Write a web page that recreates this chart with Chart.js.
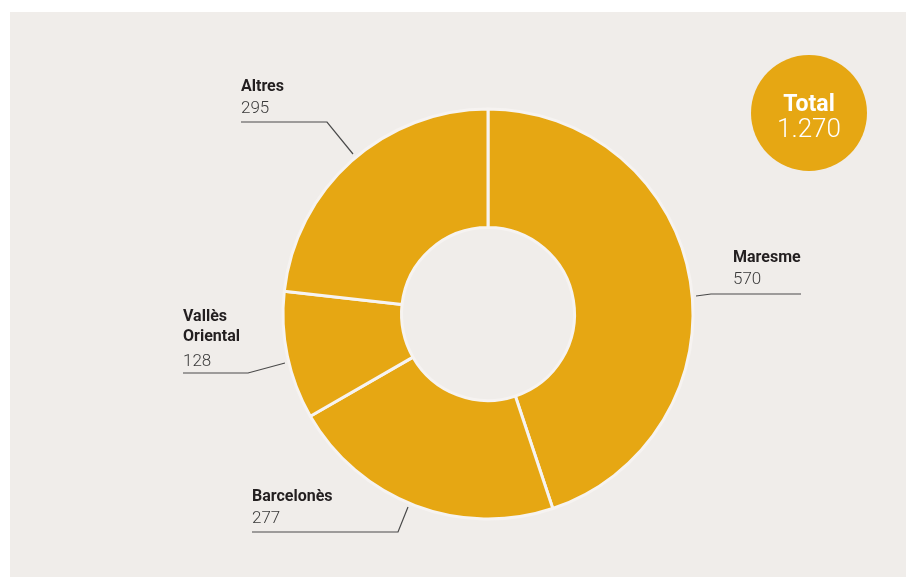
<!DOCTYPE html>
<html>
<head>
<meta charset="utf-8">
<script src="https://cdn.jsdelivr.net/npm/chart.js@4.4.1/dist/chart.umd.min.js"></script>
<style>
  html, body { margin: 0; padding: 0; background: #ffffff; }
  #wrap { position: relative; width: 906px; height: 577px; }
</style>
</head>
<body>
<div id="wrap"><canvas id="c" width="906" height="577"></canvas></div>
<script>
// ---- data ----
const categories = ['Maresme', 'Barcelonès', 'Vallès Oriental', 'Altres'];
const labelLines = [['Maresme'], ['Barcelonès'], ['Vallès', 'Oriental'], ['Altres']];
const values = [570, 277, 128, 295];
const totalTitle = 'Total';

// ---- styling / layout (offsets from the doughnut centre) ----
const COLOR_SLICE = '#e6a713';
const COLOR_PANEL = '#f0edea';
const COLOR_SEAM = '#f6f3f1';
const COLOR_TEXT = '#231f20';
const COLOR_NUM = '#3a3a3a';
const COLOR_LINE = '#4a4a4a';

const labelLayout = [
  // Maresme
  { tx: 245, ty: -52, numDy: 22, lineY: -20, lineX0: 313, elbow: [223, -20], end: [208, -18] },
  // Barcelonès
  { tx: -236, ty: 187, numDy: 22, lineY: 218, lineX0: -236, elbow: [-90, 218], end: [-80, 193] },
  // Vallès Oriental
  { tx: -305, ty: 7, numDy: 25, lineY: 59, lineX0: -305, elbow: [-240, 59], end: [-203, 49] },
  // Altres
  { tx: -247, ty: -223, numDy: 22, lineY: -192, lineX0: -247, elbow: [-161, -192], end: [-135, -160] }
];

const fmt = n => n.toString().replace(/\B(?=(\d{3})+(?!\d))/g, '.');

const panelPlugin = {
  id: 'panel',
  beforeDraw(chart) {
    const ctx = chart.ctx;
    ctx.save();
    ctx.fillStyle = COLOR_PANEL;
    ctx.fillRect(10, 12, 896, 565);
    ctx.restore();
  }
};

const labelPlugin = {
  id: 'labels',
  afterDatasetsDraw(chart) {
    const ctx = chart.ctx;
    const meta = chart.getDatasetMeta(0);
    const arc0 = meta.data[0];
    const cx = arc0.x, cy = arc0.y;
    ctx.save();
    ctx.textBaseline = 'alphabetic';
    ctx.textAlign = 'left';
    meta.data.forEach((arc, i) => {
      const L = labelLayout[i];
      const lines = labelLines[i];
      ctx.fillStyle = COLOR_TEXT;
      ctx.font = 'bold 16px Roboto, "Liberation Sans", sans-serif';
      lines.forEach((t, k) => {
        ctx.fillText(t, cx + L.tx, cy + L.ty + k * 20);
      });
      ctx.fillStyle = COLOR_NUM;
      ctx.font = '300 17px Roboto, "Liberation Sans", sans-serif';
      ctx.fillText(fmt(values[i]), cx + L.tx, cy + L.ty + (lines.length - 1) * 20 + L.numDy);
      // leader line
      ctx.strokeStyle = COLOR_LINE;
      ctx.lineWidth = 1.2;
      ctx.beginPath();
      ctx.moveTo(cx + L.lineX0, cy + L.lineY);
      ctx.lineTo(cx + L.elbow[0], cy + L.elbow[1]);
      ctx.lineTo(cx + L.end[0], cy + L.end[1]);
      ctx.stroke();
    });
    // total bubble
    const total = values.reduce((a, b) => a + b, 0);
    const bx = cx + 321, by = cy - 201;
    ctx.fillStyle = COLOR_SLICE;
    ctx.beginPath();
    ctx.arc(bx, by, 58, 0, Math.PI * 2);
    ctx.fill();
    ctx.fillStyle = '#ffffff';
    ctx.textAlign = 'center';
    ctx.font = 'bold 23px Roboto, "Liberation Sans", sans-serif';
    ctx.fillText(totalTitle, bx, by - 2);
    ctx.font = '300 26px Roboto, "Liberation Sans", sans-serif';
    ctx.fillText(fmt(total), bx, by + 24);
    ctx.restore();
  }
};

new Chart(document.getElementById('c'), {
  type: 'doughnut',
  data: {
    labels: categories,
    datasets: [{
      data: values,
      backgroundColor: COLOR_SLICE,
      borderColor: COLOR_SEAM,
      borderWidth: 3,
      hoverBorderWidth: 3,
      hoverOffset: 0
    }]
  },
  options: {
    responsive: false,
    animation: false,
    radius: 205,
    cutout: '42.2%',
    rotation: 0,
    layout: { padding: { left: 70, right: 0, top: 51, bottom: 0 } },
    plugins: {
      legend: { display: false },
      tooltip: { enabled: false }
    },
    events: []
  },
  plugins: [panelPlugin, labelPlugin]
});
</script>
</body>
</html>
